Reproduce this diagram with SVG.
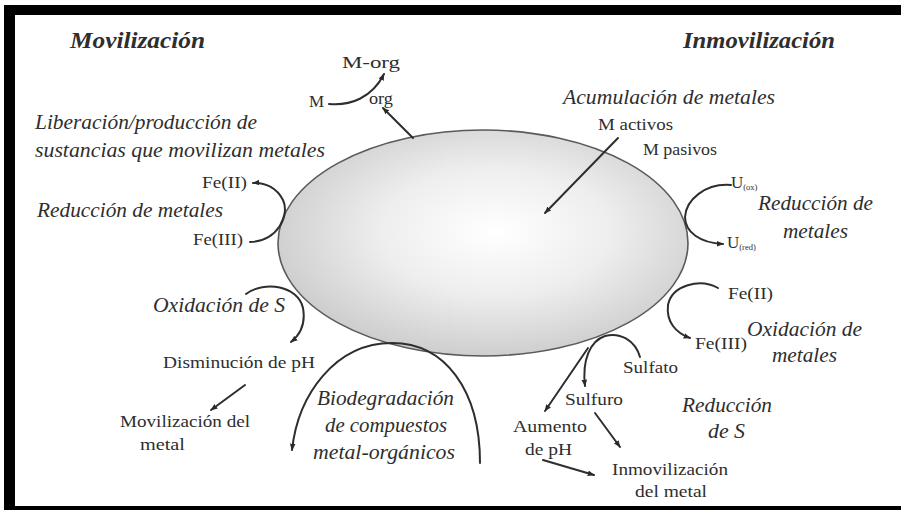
<svg xmlns="http://www.w3.org/2000/svg" width="901" height="510" viewBox="0 0 901 510">
<defs>
<radialGradient id="cellGrad" cx="0.53" cy="0.45" r="0.56">
<stop offset="0" stop-color="#ffffff"/>
<stop offset="0.5" stop-color="#eeeeee"/>
<stop offset="1" stop-color="#cdcdcd"/>
</radialGradient>
<marker id="arr" viewBox="0 0 10 10" refX="9" refY="5" markerWidth="7" markerHeight="7" markerUnits="userSpaceOnUse" orient="auto">
<path d="M0,1 L10,5 L0,9 z" fill="#2a2a2a"/>
</marker>
</defs>
<style>
text{font-family:"Liberation Serif","Times New Roman",serif;fill:#2e2e2e}
.t{font-size:24px;font-style:italic;font-weight:bold}
.i{font-size:21px;font-style:italic}
.r{font-size:17px}
.s{font-size:8.5px}
.c{fill:none;stroke:#2e2e2e;stroke-width:2;stroke-linecap:round}
</style>
<rect width="901" height="510" fill="#ffffff"/>
<path d="M4,5 H901 V510 H4 Z M15,15 V506 H901 V15 Z" fill="#000" fill-rule="evenodd"/>

<g id="cell">
<ellipse cx="483" cy="243" rx="205" ry="113" fill="url(#cellGrad)" stroke="#5a5a5a" stroke-width="1.6"/>
</g>

<g id="connectors">
<path class="c" d="M329,104 C350,106 372,98 384,74" marker-end="url(#arr)"/>
<path class="c" d="M413,138 L383,108" marker-end="url(#arr)"/>
<path class="c" d="M618,138 L545,213" marker-end="url(#arr)"/>
<path class="c" d="M250,242 C278,241 290,215 283,200 C277,188 265,182 253,183" marker-end="url(#arr)"/>
<path class="c" d="M246,294 C265,280 298,286 303,308 C306,325 300,335 291,342" marker-end="url(#arr)"/>
<path class="c" d="M245,385 L211,410" marker-end="url(#arr)"/>
<path class="c" d="M480,463 C480,390 445,343 392,343 C335,343 298,395 292,450" marker-end="url(#arr)"/>
<path class="c" d="M731,185 C705,183 686,200 685,217 C685,232 700,243 723,244" marker-end="url(#arr)"/>
<path class="c" d="M718,288 C700,278 672,285 668,305 C666,322 676,333 690,338" marker-end="url(#arr)"/>
<path class="c" d="M640,357 C635,340 620,332 605,336 C590,341 582,360 585,386" marker-end="url(#arr)"/>
<path class="c" d="M588,348 L545,411" marker-end="url(#arr)"/>
<path class="c" d="M595,413 L620,447" marker-end="url(#arr)"/>
<path class="c" d="M543,460 L594,475" marker-end="url(#arr)"/>
</g>

<g id="titulo-movilizacion"><text class="t" x="70" y="48" textLength="135" lengthAdjust="spacingAndGlyphs">Movilización</text></g>
<g id="titulo-inmovilizacion"><text class="t" x="683" y="48" textLength="152" lengthAdjust="spacingAndGlyphs">Inmovilización</text></g>

<g id="m-org">
<text class="r" x="342" y="68" textLength="58" lengthAdjust="spacingAndGlyphs">M-org</text>
<text class="r" x="309" y="107">M</text>
<text class="r" x="369" y="104" textLength="24" lengthAdjust="spacingAndGlyphs">org</text>
</g>
<g id="liberacion">
<text class="i" x="35" y="129" textLength="222" lengthAdjust="spacingAndGlyphs">Liberación/producción de</text>
<text class="i" x="35" y="157" textLength="290" lengthAdjust="spacingAndGlyphs">sustancias que movilizan metales</text>
</g>
<g id="acumulacion">
<text class="i" x="563" y="104" textLength="212" lengthAdjust="spacingAndGlyphs">Acumulación de metales</text>
<text class="r" x="598" y="130" textLength="75" lengthAdjust="spacingAndGlyphs">M activos</text>
<text class="r" x="643" y="155" textLength="74" lengthAdjust="spacingAndGlyphs">M pasivos</text>
</g>
<g id="reduccion-metales-izq">
<text class="r" x="202" y="188" textLength="45" lengthAdjust="spacingAndGlyphs">Fe(II)</text>
<text class="i" x="37" y="217" textLength="186" lengthAdjust="spacingAndGlyphs">Reducción de metales</text>
<text class="r" x="193" y="245" textLength="50" lengthAdjust="spacingAndGlyphs">Fe(III)</text>
</g>
<g id="reduccion-metales-der">
<text class="r" x="731" y="188">U<tspan class="s" dy="2">(ox)</tspan></text>
<text class="i" x="758" y="210" textLength="115" lengthAdjust="spacingAndGlyphs">Reducción de</text>
<text class="i" x="783" y="238" textLength="65" lengthAdjust="spacingAndGlyphs">metales</text>
<text class="r" x="727" y="248">U<tspan class="s" dy="2">(red)</tspan></text>
</g>
<g id="oxidacion-metales">
<text class="r" x="728" y="299" textLength="45" lengthAdjust="spacingAndGlyphs">Fe(II)</text>
<text class="i" x="747" y="336" textLength="115" lengthAdjust="spacingAndGlyphs">Oxidación de</text>
<text class="r" x="695" y="349" textLength="52" lengthAdjust="spacingAndGlyphs">Fe(III)</text>
<text class="i" x="772" y="362" textLength="65" lengthAdjust="spacingAndGlyphs">metales</text>
</g>
<g id="oxidacion-s">
<text class="i" x="153" y="312" textLength="132" lengthAdjust="spacingAndGlyphs">Oxidación de S</text>
<text class="r" x="163" y="368" textLength="152" lengthAdjust="spacingAndGlyphs">Disminución de pH</text>
<text class="r" x="120" y="427" textLength="130" lengthAdjust="spacingAndGlyphs">Movilización del</text>
<text class="r" x="140" y="450" textLength="45" lengthAdjust="spacingAndGlyphs">metal</text>
</g>
<g id="biodegradacion">
<text class="i" x="317" y="405" textLength="137" lengthAdjust="spacingAndGlyphs">Biodegradación</text>
<text class="i" x="325" y="432" textLength="122" lengthAdjust="spacingAndGlyphs">de compuestos</text>
<text class="i" x="313" y="459" textLength="142" lengthAdjust="spacingAndGlyphs">metal-orgánicos</text>
</g>
<g id="reduccion-s">
<text class="r" x="623" y="373" textLength="55" lengthAdjust="spacingAndGlyphs">Sulfato</text>
<text class="r" x="565" y="405" textLength="58" lengthAdjust="spacingAndGlyphs">Sulfuro</text>
<text class="i" x="682" y="412" textLength="90" lengthAdjust="spacingAndGlyphs">Reducción</text>
<text class="i" x="708" y="438" textLength="37" lengthAdjust="spacingAndGlyphs">de S</text>
<text class="r" x="513" y="432" textLength="74" lengthAdjust="spacingAndGlyphs">Aumento</text>
<text class="r" x="525" y="455" textLength="47" lengthAdjust="spacingAndGlyphs">de pH</text>
<text class="r" x="612" y="475" textLength="116" lengthAdjust="spacingAndGlyphs">Inmovilización</text>
<text class="r" x="635" y="497" textLength="72" lengthAdjust="spacingAndGlyphs">del metal</text>
</g>
</svg>
